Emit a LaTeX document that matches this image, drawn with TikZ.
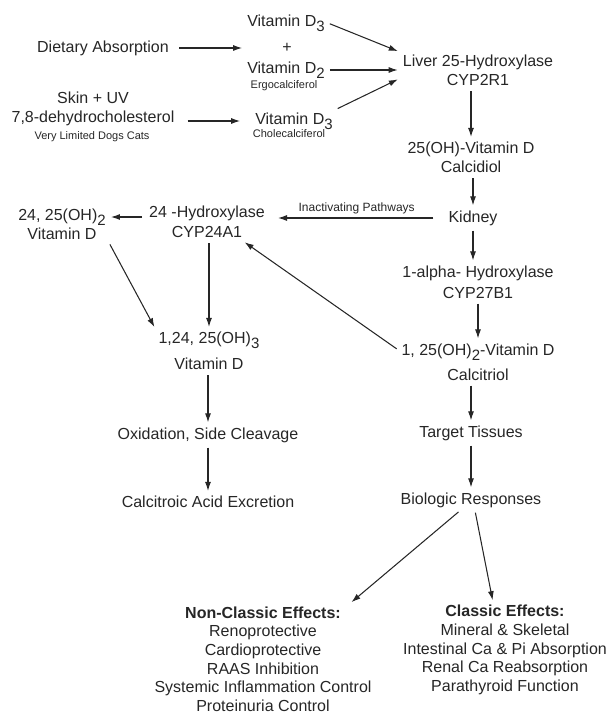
\documentclass[tikz,border=0pt]{standalone}
\usepackage{fontspec}
\setmainfont{Liberation Sans}
\usetikzlibrary{arrows.meta}
\colorlet{ink}{black!85}
\newcommand{\sub}[1]{\raisebox{-5pt}{\fontsize{15}{15}\selectfont #1}}
\begin{document}
\begin{tikzpicture}[x=1pt, y={(0pt,-1pt)},
    every node/.style={inner sep=3pt, align=center, text=ink,
            font=\fontsize{16}{19}\selectfont},
    note/.style={font=\fontsize{11}{13}\selectfont},
    arr/.style={draw=ink, line width=1.05pt, -{Latex[length=9pt,width=6pt]},
            shorten >=2pt, shorten <=2pt}]
\useasboundingbox (0,0) rectangle (611,714);

\node (diet) at (103,48) {Dietary Absorption};
\node (d3diet) at (286,23) {Vitamin D\sub{3}};
\node (plus) at (287,48) {+};
\node (d2) at (286,70) {Vitamin D\sub{2}};
\node[note] (ergo) at (284,86) {Ergocalciferol};
\node (skin) at (93,108.5) {Skin + UV\\7,8-dehydrocholesterol};
\node[note] (dogs) at (92,137) {Very Limited Dogs Cats};
\node (d3skin) at (294,121) {Vitamin D\sub{3}};
\node[note] (chole) at (289,134) {Cholecalciferol};
\node (liver) at (478,70.5) {Liver 25-Hydroxylase\\CYP2R1};
\node (calcidiol) at (471,157.5) {25(OH)-Vitamin D\\Calcidiol};
\node (kidney) at (473,218) {Kidney};
\node (alpha) at (478,282) {1-alpha- Hydroxylase\\[2pt]CYP27B1};
\node (calcitriol) at (478,362) {1, 25(OH)\sub{2}-Vitamin D\\[6pt]Calcitriol};
\node (target) at (471,433) {Target Tissues};
\node (bio) at (471,500) {Biologic Responses};
\node (hyd24) at (207,222) {24 -Hydroxylase\\[1pt]CYP24A1};
\node (d2425) at (62,224) {24, 25(OH)\sub{2}\\Vitamin D};
\node (d12425) at (209,351) {1,24, 25(OH)\sub{3}\\[7pt]Vitamin D};
\node (oxid) at (208,435) {Oxidation, Side Cleavage};
\node (calcitroic) at (208,502) {Calcitroic Acid Excretion};
\node[font=\fontsize{16}{18.6}\selectfont] (nonclassic) at (263,659)
    {\textbf{Non-Classic Effects:}\\Renoprotective\\Cardioprotective\\
     RAAS Inhibition\\Systemic Inflammation Control\\Proteinuria Control};
\node[font=\fontsize{16}{18.6}\selectfont] (classic) at (505,650)
    {\textbf{Classic Effects:}\\Mineral \& Skeletal\\Intestinal Ca \& Pi Absorption\\
     Renal Ca Reabsorption\\Parathyroid Function};

\draw[arr, shorten <=7pt] (diet.east) -- (diet.east -| d2.west);
\draw[arr, shorten <=10pt, shorten >=12pt] (d3skin.west -| skin.east) -- (d3skin.west);
\draw[arr] (d3diet.east) -- (liver.north west);
\draw[arr] (d2.east) -- (d2.east -| liver.west);
\draw[arr] (d3skin.north east) -- ([yshift=-8pt]liver.west);
\draw[arr] (liver.south -| calcidiol) -- (calcidiol.north);
\draw[arr] (calcidiol.south -| kidney) -- (kidney.north);
\draw[arr] (kidney.south) -- (kidney.south |- alpha.north);
\draw[arr] (alpha.south) -- (calcitriol.north);
\draw[arr] (calcitriol.south -| target) -- (target.north);
\draw[arr] (target) -- (bio);
\draw[arr] ([xshift=-11pt]bio.south) -- ([xshift=87pt]nonclassic.north);
\draw[arr] ([xshift=4pt]bio.south) -- ([xshift=-12pt]classic.north);
\draw[arr, shorten <=12pt, shorten >=10pt] (kidney.west) -- (kidney.west -| hyd24.east)
    node[note, midway, above, font=\fontsize{12}{14}\selectfont] (inact) {Inactivating Pathways};
\draw[arr, shorten <=4pt] ([yshift=5pt]hyd24.west) -- ([yshift=5pt]hyd24.west -| d2425.east);
\draw[arr] (d2425.south east) -- (d12425.north west);
\draw[arr] (hyd24.south -| d12425) -- (d12425.north);
\draw[arr] ([yshift=12pt]calcitriol.west) -- ([xshift=-25pt]hyd24.south east);
\draw[arr] (d12425.south -| oxid) -- (oxid.north);
\draw[arr] (oxid) -- (calcitroic);
\end{tikzpicture}
\end{document}
